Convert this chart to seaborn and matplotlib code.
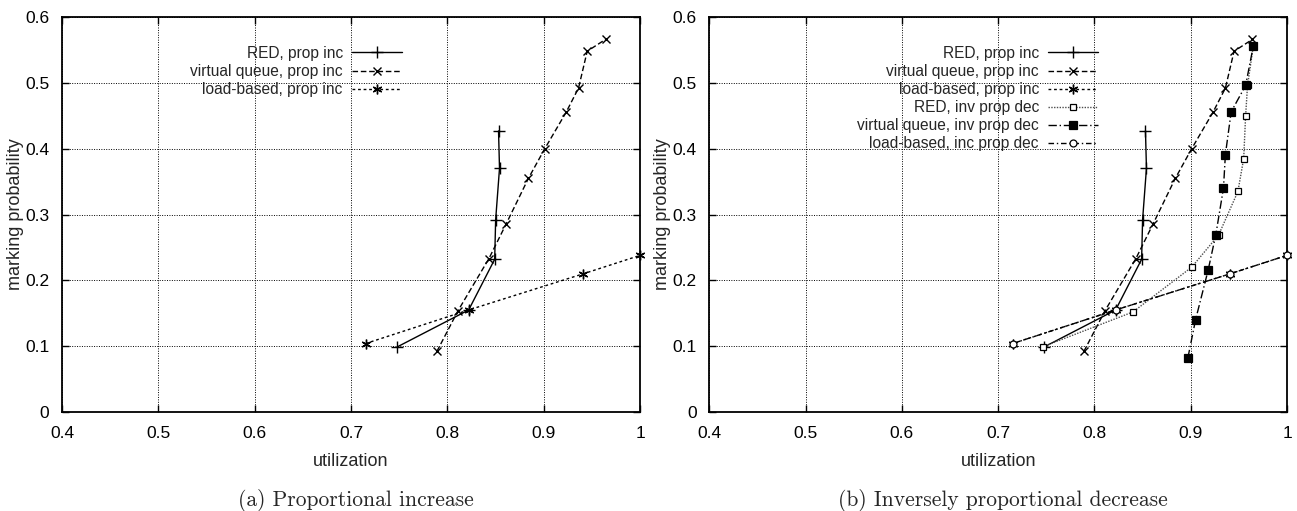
import numpy as np
import pandas as pd
import matplotlib
matplotlib.use("Agg")
import matplotlib.pyplot as plt
import seaborn as sns

# ---------------- data ----------------
red_inc_x = [0.748, 0.822, 0.849, 0.850, 0.854, 0.853]
red_inc_y = [0.099, 0.155, 0.232, 0.292, 0.370, 0.427]

vq_inc_x = [0.789, 0.811, 0.843, 0.861, 0.884, 0.901, 0.923, 0.936, 0.945, 0.964]
vq_inc_y = [0.092, 0.154, 0.233, 0.286, 0.355, 0.400, 0.455, 0.492, 0.548, 0.566]

lb_inc_x = [0.715, 0.822, 0.941, 1.000]
lb_inc_y = [0.104, 0.155, 0.210, 0.238]

red_dec_x = [0.747, 0.840, 0.901, 0.929, 0.949, 0.955, 0.957, 0.959, 0.965]
red_dec_y = [0.0995, 0.152, 0.220, 0.269, 0.335, 0.385, 0.450, 0.496, 0.556]

vq_dec_x = [0.897, 0.905, 0.918, 0.926, 0.934, 0.936, 0.942, 0.957, 0.965]
vq_dec_y = [0.082, 0.140, 0.215, 0.269, 0.340, 0.391, 0.456, 0.496, 0.556]

lb_dec_x = [0.715, 0.822, 0.941, 1.000]
lb_dec_y = [0.104, 0.155, 0.210, 0.238]

x_ticks = [0.4, 0.5, 0.6, 0.7, 0.8, 0.9, 1.0]
x_tick_labels = ["0.4", "0.5", "0.6", "0.7", "0.8", "0.9", "1"]
y_ticks = [0.0, 0.1, 0.2, 0.3, 0.4, 0.5, 0.6]
y_tick_labels = ["0", "0.1", "0.2", "0.3", "0.4", "0.5", "0.6"]

labels = ["RED, prop inc", "virtual queue, prop inc", "load-based, prop inc",
          "RED, inv prop dec", "virtual queue, inv prop dec", "load-based, inc prop dec"]
captions = ["(a) Proportional increase", "(b) Inversely proportional decrease"]
xlabel = "utilization"
ylabel = "marking probability"

# ---------------- style ----------------
sns.set_style("ticks")
plt.rcParams["font.family"] = ["Liberation Sans", "DejaVu Sans"]
plt.rcParams["font.size"] = 12.5

asterisk = (6, 2, 0)

styles = [
    dict(marker="+", ms=8, mew=1.0, mfc="k", linestyle="-"),
    dict(marker="x", ms=6, mew=1.0, mfc="k", linestyle=(0, (4, 2))),
    dict(marker=asterisk, ms=7, mew=1.0, mfc="k", linestyle=(0, (2, 2))),
    dict(marker="s", ms=5, mew=0.9, mfc="white", linestyle=(0, (1, 1)), color="0.3"),
    dict(marker="s", ms=6, mew=0.9, mfc="k", linestyle=(0, (6, 2, 1, 2))),
    dict(marker="o", ms=5, mew=0.9, mfc="white", linestyle=(0, (4, 2, 1, 2))),
]

series = [
    (red_inc_x, red_inc_y), (vq_inc_x, vq_inc_y), (lb_inc_x, lb_inc_y),
    (red_dec_x, red_dec_y), (vq_dec_x, vq_dec_y), (lb_dec_x, lb_dec_y),
]

fig = plt.figure(figsize=(12.97, 5.11), dpi=100)
ax1 = fig.add_axes([0.0478, 0.1937, 0.4458, 0.773])
ax2 = fig.add_axes([0.5469, 0.1937, 0.4454, 0.773])

def draw(ax, idxs):
    for i in idxs:
        xs, ys = series[i]
        df = pd.DataFrame({"x": xs, "y": ys})
        st = dict(styles[i])
        color = st.pop("color", "k")
        ls = st.pop("linestyle")
        sns.lineplot(data=df, x="x", y="y", ax=ax, sort=False, estimator=None,
                     color=color, linestyle=ls, linewidth=1.0, mec="k",
                     label=labels[i], clip_on=False, zorder=3, **st)
    ax.set_xlim(0.4, 1.0)
    ax.set_ylim(0.0, 0.6)
    ax.set_xticks(x_ticks)
    ax.set_xticklabels(x_tick_labels)
    ax.set_yticks(y_ticks)
    ax.set_yticklabels(y_tick_labels)
    ax.grid(True, color="k", linestyle=(0, (1, 1.5)), linewidth=0.7)
    ax.tick_params(direction="in", length=5, width=1.0, top=True, right=True,
                   labelsize=12.5, colors="k")
    ax.tick_params(axis="x", pad=10)
    ax.tick_params(axis="y", pad=9)
    for s in ax.spines.values():
        s.set_visible(True)
        s.set_linewidth(1.3)
        s.set_color("k")
    ax.set_xlabel(xlabel, fontsize=13, labelpad=8.5)
    ax.set_ylabel(ylabel, fontsize=13, labelpad=1)

draw(ax1, [0, 1, 2])
draw(ax2, [0, 1, 2, 3, 4, 5])

for ax, anchor_x in [(ax1, 0.588), (ax2, 0.673)]:
    leg = ax.legend(loc="upper right", bbox_to_anchor=(anchor_x, 0.927),
                    frameon=False, markerfirst=False, fontsize=11.2,
                    handlelength=3.2, handletextpad=0.6, labelspacing=0.2,
                    borderaxespad=0, borderpad=0)

fig.text(0.2745, 0.0215, captions[0], ha="center", va="center",
         family=["cmr10", "DejaVu Serif"], fontsize=15.5)
fig.text(0.773, 0.0215, captions[1], ha="center", va="center",
         family=["cmr10", "DejaVu Serif"], fontsize=15.5)

fig.savefig("out.png", dpi=100)
